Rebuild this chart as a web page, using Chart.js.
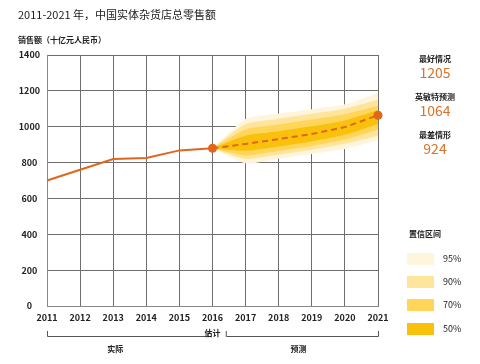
<!DOCTYPE html>
<html>
<head>
<meta charset="utf-8">
<script src="https://cdn.jsdelivr.net/npm/chart.js@4.4.0/dist/chart.umd.min.js"></script>
<style>
  html, body { margin: 0; padding: 0; background: #fff; }
  #wrap { width: 480px; height: 364px; position: relative; }
</style>
</head>
<body>
<div id="wrap"><canvas id="ventasChart" width="480" height="364"></canvas></div>
<script>
// datos
var actualYears = [2011, 2012, 2013, 2014, 2015, 2016];
var actualValues = [700, 760, 820, 825, 868, 880];

var forecastYears = [2016, 2017, 2018, 2019, 2020, 2021];
var forecastValues = [880, 904, 931, 959, 998, 1064];

// bandas de confianza (bajo / alto)
var band95Lo = [880, 796, 822, 848, 876, 924];
var band95Hi = [880, 1043, 1074, 1098, 1125, 1190];
var band90Lo = [880, 820, 845, 872, 905, 950];
var band90Hi = [880, 1015, 1045, 1072, 1100, 1150];
var band70Lo = [880, 840, 865, 893, 928, 985];
var band70Hi = [880, 985, 1012, 1040, 1070, 1115];
var band50Lo = [880, 866, 890, 918, 955, 1015];
var band50Hi = [880, 950, 975, 1002, 1035, 1092];

var yTicks = [0, 200, 400, 600, 800, 1000, 1200, 1400];
var xTicks = [2011, 2012, 2013, 2014, 2015, 2016, 2017, 2018, 2019, 2020, 2021];

var bandLabels = ["95%", "90%", "70%", "50%"];
var bandColors = ["#fff5dc", "#ffe49c", "#ffd55a", "#f9c00c"];

var sideNotes = [
    { label: "最好情况", value: "1205" },
    { label: "英敏特预测", value: "1064" },
    { label: "最差情形", value: "924" }
];

var FONT = "'Noto Sans CJK SC', 'Noto Sans', sans-serif";
var ORANGE = "#e0661c";

function pts(xs, ys) {
    return xs.map(function (x, i) { return { x: x, y: ys[i] }; });
}

// pares de bandas: el de 95% primero en dibujarse (abajo)
var bands = [
    { lo: band50Lo, hi: band50Hi, color: bandColors[3] },
    { lo: band70Lo, hi: band70Hi, color: bandColors[2] },
    { lo: band90Lo, hi: band90Hi, color: bandColors[1] },
    { lo: band95Lo, hi: band95Hi, color: bandColors[0] }
];

var datasets = [];
// lineas primero para que queden encima
datasets.push({
    data: pts(forecastYears, forecastValues),
    borderColor: ORANGE,
    borderWidth: 2,
    borderDash: [6, 4],
    pointRadius: forecastYears.map(function (y) { return y === 2021 ? 4.5 : 0; }),
    pointBackgroundColor: ORANGE,
    pointBorderWidth: 0,
    fill: false,
    clip: false,
    order: 0
});
datasets.push({
    data: pts(actualYears, actualValues),
    borderColor: ORANGE,
    borderWidth: 2,
    pointRadius: actualYears.map(function (y) { return y === 2016 ? 4.5 : 0; }),
    pointBackgroundColor: ORANGE,
    pointBorderWidth: 0,
    fill: false,
    clip: false,
    order: 0
});
bands.forEach(function (b, i) {
    var loIndex = datasets.length;
    datasets.push({
        data: pts(forecastYears, b.lo),
        borderWidth: 0,
        borderColor: "rgba(0,0,0,0)",
        pointRadius: 0,
        fill: false,
        tension: 0.2,
        order: 1 + i
    });
    datasets.push({
        data: pts(forecastYears, b.hi),
        borderWidth: 0,
        borderColor: "rgba(0,0,0,0)",
        backgroundColor: b.color,
        pointRadius: 0,
        fill: { target: loIndex },
        tension: 0.2,
        order: 1 + i
    });
});

// textos y anotaciones
var textPlugin = {
    id: "textos",
    afterDraw: function (chart) {
        var ctx = chart.ctx;
        var xs = chart.scales.x;
        ctx.save();

        ctx.fillStyle = "#222";
        ctx.textBaseline = "middle";
        ctx.textAlign = "left";
        ctx.font = "11px " + FONT;
        ctx.fillText("2011-2021 年，中国实体杂货店总零售额", 18, 15);

        ctx.font = "bold 8px " + FONT;
        ctx.fillText("销售额（十亿元人民币）", 18, 40);

        // corchetes inferiores
        ctx.strokeStyle = "#555";
        ctx.lineWidth = 1;
        function bracket(x1, x2) {
            ctx.beginPath();
            ctx.moveTo(x1 + 0.5, 331);
            ctx.lineTo(x1 + 0.5, 336.5);
            ctx.lineTo(x2 + 0.5, 336.5);
            ctx.lineTo(x2 + 0.5, 331);
            ctx.stroke();
        }
        bracket(xs.getPixelForValue(2011), xs.getPixelForValue(2015.85));
        bracket(xs.getPixelForValue(2016.4), xs.getPixelForValue(2021));

        ctx.fillStyle = "#222";
        ctx.textAlign = "center";
        ctx.font = "bold 8px " + FONT;
        ctx.fillText("估计", xs.getPixelForValue(2016), 333);
        ctx.fillText("实际", xs.getPixelForValue(2013.06), 349);
        ctx.fillText("预测", xs.getPixelForValue(2018.6), 349);

        // notas laterales
        var noteY = [59, 97, 135];
        sideNotes.forEach(function (n, i) {
            ctx.fillStyle = "#222";
            ctx.font = "bold 8px " + FONT;
            ctx.fillText(n.label, 435, noteY[i]);
            ctx.fillStyle = "#d9732a";
            ctx.font = "14px " + FONT;
            ctx.fillText(n.value, 435, noteY[i] + 14);
        });

        // leyenda
        ctx.fillStyle = "#222";
        ctx.font = "bold 8px " + FONT;
        ctx.fillText("置信区间", 425, 234);
        var boxY = [253, 276, 299, 323];
        for (var i = 0; i < 4; i++) {
            ctx.fillStyle = bandColors[i];
            ctx.fillRect(407, boxY[i], 27, 12);
            ctx.fillStyle = "#222";
            ctx.textAlign = "left";
            ctx.font = "9px " + FONT;
            ctx.fillText(bandLabels[i], 443, boxY[i] + 6);
            ctx.textAlign = "center";
        }
        ctx.restore();
    }
};

var ctx = document.getElementById("ventasChart").getContext("2d");
var ventasChart = new Chart(ctx, {
    type: "line",
    data: { datasets: datasets },
    options: {
        responsive: false,
        animation: false,
        events: [],
        layout: { padding: { left: 0, top: 55, right: 102, bottom: 38 } },
        plugins: {
            legend: { display: false },
            tooltip: { enabled: false },
            filler: { propagate: false }
        },
        scales: {
            x: {
                type: "linear",
                min: 2011,
                max: 2021,
                afterBuildTicks: function (s) {
                    s.ticks = xTicks.map(function (v) { return { value: v }; });
                },
                ticks: {
                    autoSkip: false,
                    maxRotation: 0,
                    minRotation: 0,
                    padding: 6,
                    color: "#222",
                    font: { family: FONT, size: 9, weight: "bold" },
                    callback: function (v) { return String(v); }
                },
                grid: { color: "#6e6e6e", drawTicks: false, lineWidth: 1 },
                border: { color: "#888" },
                afterFit: function (s) { s.height = 20; }
            },
            y: {
                min: 0,
                max: 1400,
                afterBuildTicks: function (s) {
                    s.ticks = yTicks.map(function (v) { return { value: v }; });
                },
                ticks: {
                    autoSkip: false,
                    padding: 7,
                    crossAlign: "center",
                    color: "#222",
                    font: { family: FONT, size: 9, weight: "bold" },
                    callback: function (v) { return String(v); }
                },
                grid: { color: "#6e6e6e", drawTicks: false, lineWidth: 1 },
                border: { color: "#888" },
                afterFit: function (s) { s.width = 47; }
            }
        }
    },
    plugins: [textPlugin]
});
</script>
</body>
</html>
